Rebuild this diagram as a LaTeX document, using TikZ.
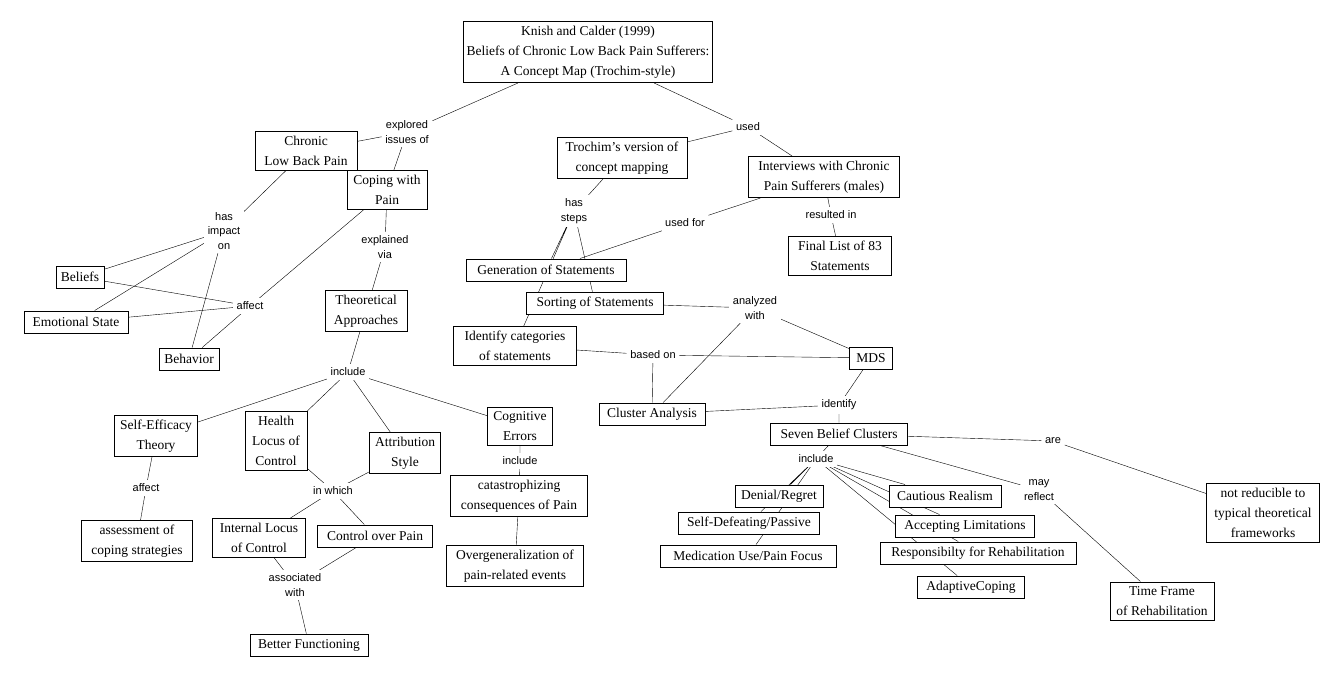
\documentclass[tikz,border=0pt]{standalone}
\usepackage{fontspec}
\setmainfont{Liberation Serif}
\newfontfamily\lsans{Liberation Sans}
\usetikzlibrary{backgrounds}
\tikzset{
  concept/.style={draw, line width=0.9pt, fill=white, align=center, inner xsep=3pt, inner ysep=4.5pt,
    minimum height=22pt, font=\fontsize{13.5}{20}\selectfont},
  link/.style={fill=white, align=center, inner sep=3.5pt, font=\lsans\fontsize{11}{14.5}\selectfont},
}
\begin{document}
\begin{tikzpicture}[x=1pt,y=-1pt]
\useasboundingbox (0,0) rectangle (1343,680);
% concepts
\node[concept, minimum width=247pt] (title) at (588,52) {Knish and Calder (1999)\\Beliefs of Chronic Low Back Pain Sufferers:\\A Concept Map (Trochim-style)};
\node[concept, minimum width=102pt] (chronic) at (306,151) {Chronic\\Low Back Pain};
\node[concept, minimum width=80pt] (coping) at (387,190) {Coping with\\Pain};
\node[concept, minimum width=48pt] (beliefs) at (80,277) {Beliefs};
\node[concept, minimum width=104pt] (emotion) at (76,322) {Emotional State};
\node[concept, minimum width=60pt] (behavior) at (189,359) {Behavior};
\node[concept, minimum width=82pt] (theory) at (366,311) {Theoretical\\Approaches};
\node[concept, minimum width=83pt] (selfeff) at (156,436) {Self-Efficacy\\Theory};
\node[concept, minimum width=62pt] (health) at (276,441) {Health\\Locus of\\Control};
\node[concept, minimum width=71pt] (attrib) at (405,453) {Attribution\\Style};
\node[concept, minimum width=65pt] (cognit) at (520,426) {Cognitive\\Errors};
\node[concept, minimum width=111pt] (assess) at (137,541) {assessment of\\coping strategies};
\node[concept, minimum width=93pt] (internal) at (259,538) {Internal Locus\\of Control};
\node[concept, minimum width=115pt] (control) at (375,536) {Control over Pain};
\node[concept, minimum width=118pt] (better) at (309,645) {Better Functioning};
\node[concept, minimum width=137pt] (catas) at (519,496) {catastrophizing\\consequences of Pain};
\node[concept, minimum width=137pt] (overgen) at (515,566) {Overgeneralization of\\pain-related events};
%
\node[concept, minimum width=130pt] (trochim) at (622,158) {Trochim's version of\\concept mapping};
\node[concept, minimum width=151pt] (interv) at (824,177) {Interviews with Chronic\\Pain Sufferers (males)};
\node[concept, minimum width=103pt] (final) at (840,256) {Final List of 83\\Statements};
\node[concept, minimum width=160pt] (generat) at (546,270) {Generation of Statements};
\node[concept, minimum width=137pt] (sorting) at (595,303) {Sorting of Statements};
\node[concept, minimum width=123pt] (identcat) at (515,346) {Identify categories\\of statements};
\node[concept, minimum width=43pt] (mds) at (871,358) {MDS};
\node[concept, minimum width=106pt] (cluster) at (652,414) {Cluster Analysis};
\node[concept, minimum width=137pt] (seven) at (839,434) {Seven Belief Clusters};
\node[concept, minimum width=88pt] (denial) at (779,496) {Denial/Regret};
\node[concept, minimum width=141pt] (selfdef) at (749,523) {Self-Defeating/Passive};
\node[concept, minimum width=176pt] (medic) at (748,556) {Medication Use/Pain Focus};
\node[concept, minimum width=112pt] (cautious) at (945,496) {Cautious Realism};
\node[concept, minimum width=139pt] (accept) at (965,526) {Accepting Limitations};
\node[concept, minimum width=196pt] (respons) at (978,553) {Responsibilty for Rehabilitation};
\node[concept, minimum width=107pt] (adaptive) at (971,587) {AdaptiveCoping};
\node[concept, minimum width=113pt] (notred) at (1263,513) {not reducible to\\typical theoretical\\frameworks};
\node[concept, minimum width=104pt] (timefr) at (1162,601) {Time Frame\\of Rehabilitation};
% linking words
\node[link] (lexplored) at (407,132) {explored\\issues of};
\node[link] (limpact) at (224,231) {has\\impact\\on};
\node[link] (laffect) at (250,306) {affect};
\node[link] (lexplain) at (385,247) {explained\\via};
\node[link] (linclude) at (348,372) {include};
\node[link] (lseaffect) at (146,488) {affect};
\node[link] (lwhich) at (333,491) {in which};
\node[link] (lassoc) at (295,585) {associated\\with};
\node[link] (lcinclude) at (520,461) {include};
\node[link] (lused) at (748,127) {used};
\node[link] (lsteps) at (574,211) {has\\steps};
\node[link] (lusedfor) at (685,223) {used for};
\node[link] (lresult) at (831,215) {resulted in};
\node[link] (lanalyz) at (755,308) {analyzed\\with};
\node[link] (lbased) at (653,355) {based on};
\node[link] (lident) at (839,405) {identify};
\node[link] (lsinclude) at (816,459) {include};
\node[link] (lare) at (1053,441) {are};
\node[link] (lmay) at (1039,490) {may\\reflect};
% connectors
\begin{scope}[on background layer, line width=1.2pt]
\draw (title)--(lexplored) (lexplored)--(chronic) (lexplored)--(coping);
\draw (chronic)--(limpact) (limpact)--(beliefs) (limpact)--(emotion) (limpact)--(behavior);
\draw (coping)--(laffect) (laffect)--(beliefs) (laffect)--(emotion) (laffect)--(behavior);
\draw (coping)--(lexplain) (lexplain)--(theory);
\draw (theory)--(linclude) (linclude)--(selfeff) (linclude)--(health) (linclude)--(attrib) (linclude)--(cognit);
\draw (selfeff)--(lseaffect) (lseaffect)--(assess);
\draw (health)--(lwhich) (attrib)--(lwhich) (lwhich)--(internal) (lwhich)--(control);
\draw (internal)--(lassoc) (control)--(lassoc) (lassoc)--(better);
\draw (cognit)--(lcinclude) (lcinclude)--(catas) (catas)--(overgen);
%
\draw (title)--(lused) (lused)--(trochim) (lused)--(interv);
\draw (trochim)--(lsteps) (lsteps)--(generat) (lsteps)--(sorting) (lsteps)--(identcat);
\draw (interv)--(lusedfor) (lusedfor)--(generat);
\draw (interv)--(lresult) (lresult)--(final);
\draw (sorting)--(lanalyz) (lanalyz)--(mds) (lanalyz)--(cluster);
\draw (identcat)--(lbased) (lbased)--(mds) (lbased)--(cluster);
\draw (mds)--(lident) (cluster)--(lident) (lident)--(seven);
\draw (seven)--(lsinclude);
\draw (lsinclude)--(denial) (lsinclude)--(selfdef) (lsinclude)--(medic);
\draw (lsinclude)--(cautious) (lsinclude)--(accept) (lsinclude)--(respons) (lsinclude)--(adaptive);
\draw (seven)--(lare) (lare)--(notred);
\draw (seven)--(lmay) (lmay)--(timefr);
\end{scope}
\end{tikzpicture}
\end{document}
